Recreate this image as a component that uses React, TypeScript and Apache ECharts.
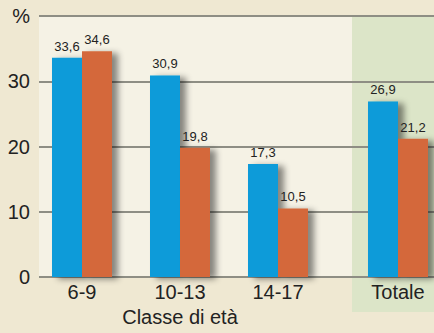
import React, { useEffect, useRef } from "react";
import * as echarts from "echarts";

const ageClasses = ["6-9", "10-13", "14-17"];
const totalCategory = ["Totale"];
const blueValues = [33.6, 30.9, 17.3];
const orangeValues = [34.6, 19.8, 10.5];
const blueTotal = [26.9];
const orangeTotal = [21.2];
const yTickLabels = ["0", "10", "20", "30", "%"];
const xAxisTitle = "Classe di età";

const BLUE = "#0A9BD9";
const ORANGE = "#D4683A";
const TEXT = "#222222";
const GRID = "#8E8E84";

export default function App() {
  const ref = useRef<HTMLDivElement>(null);
  useEffect(() => {
    if (!ref.current) return;
    const chart = echarts.init(ref.current, null, { renderer: "svg" });
    const fmt = (p: any) => String(p.value).replace(".", ",");
    const barStyle = (c: string) => ({
      color: c,
      shadowColor: "rgba(0,0,0,0.45)",
      shadowBlur: 6,
      shadowOffsetX: 6,
      shadowOffsetY: 2,
    });
    const label = {
      show: true,
      position: "top" as const,
      distance: 5,
      formatter: fmt,
      color: TEXT,
      fontSize: 13,
      fontFamily: "'Liberation Sans Narrow', 'Liberation Sans', sans-serif",
    };
    const yBase = { type: "value" as const, min: 0, max: 40, interval: 10 };
    const gridBase = { top: 16, bottom: 56, containLabel: false, outerBoundsMode: "none" };
    chart.setOption({
      animation: false,
      backgroundColor: "#EFE8D2",
      textStyle: { fontFamily: "'Liberation Sans', Arial, sans-serif" },
      graphic: [
        { type: "rect", z: -10, shape: { x: 39, y: 16, width: 313, height: 261 }, style: { fill: "#F5F2E5" } },
        { type: "rect", z: -10, shape: { x: 352, y: 16, width: 82, height: 296 }, style: { fill: "#DCE5C8" } },
      ],
      grid: [
        { ...gridBase, left: 39, right: 0 },
        { ...gridBase, left: 33, width: 294 },
        { ...gridBase, left: 362, right: 0 },
      ],
      xAxis: [
        { gridIndex: 0, type: "category", data: [""], show: false },
        {
          gridIndex: 1,
          type: "category",
          data: ageClasses,
          axisLine: { show: false },
          axisTick: { show: false },
          axisLabel: { color: TEXT, fontSize: 20, margin: 5 },
          name: xAxisTitle,
          nameLocation: "middle",
          nameGap: 29,
          nameTextStyle: { color: TEXT, fontSize: 20 },
        },
        {
          gridIndex: 2,
          type: "category",
          data: totalCategory,
          axisLine: { show: false },
          axisTick: { show: false },
          axisLabel: { color: TEXT, fontSize: 20, margin: 5 },
        },
      ],
      yAxis: [
        {
          ...yBase,
          gridIndex: 0,
          axisLine: { show: false },
          axisTick: { show: false },
          axisLabel: {
            color: TEXT,
            fontSize: 20,
            margin: 9,
            formatter: (v: number) => yTickLabels[Math.round(v / 10)],
          },
          splitLine: { show: true, lineStyle: { color: GRID, width: 2 } },
        },
        { ...yBase, gridIndex: 1, show: false },
        { ...yBase, gridIndex: 2, show: false },
      ],
      series: [
        { type: "bar", xAxisIndex: 0, yAxisIndex: 0, data: [null], silent: true },
        { type: "bar", xAxisIndex: 1, yAxisIndex: 1, data: blueValues, barWidth: 30, barGap: "0%", itemStyle: barStyle(BLUE), label },
        { type: "bar", xAxisIndex: 1, yAxisIndex: 1, data: orangeValues, barWidth: 30, barGap: "0%", itemStyle: barStyle(ORANGE), label },
        { type: "bar", xAxisIndex: 2, yAxisIndex: 2, data: blueTotal, barWidth: 30, barGap: "0%", itemStyle: barStyle(BLUE), label },
        { type: "bar", xAxisIndex: 2, yAxisIndex: 2, data: orangeTotal, barWidth: 30, barGap: "0%", itemStyle: barStyle(ORANGE), label },
      ],
    });
    return () => chart.dispose();
  }, []);
  return <div ref={ref} style={{ position: "fixed", left: 0, top: 0, width: 434, height: 333 }} />;
}
